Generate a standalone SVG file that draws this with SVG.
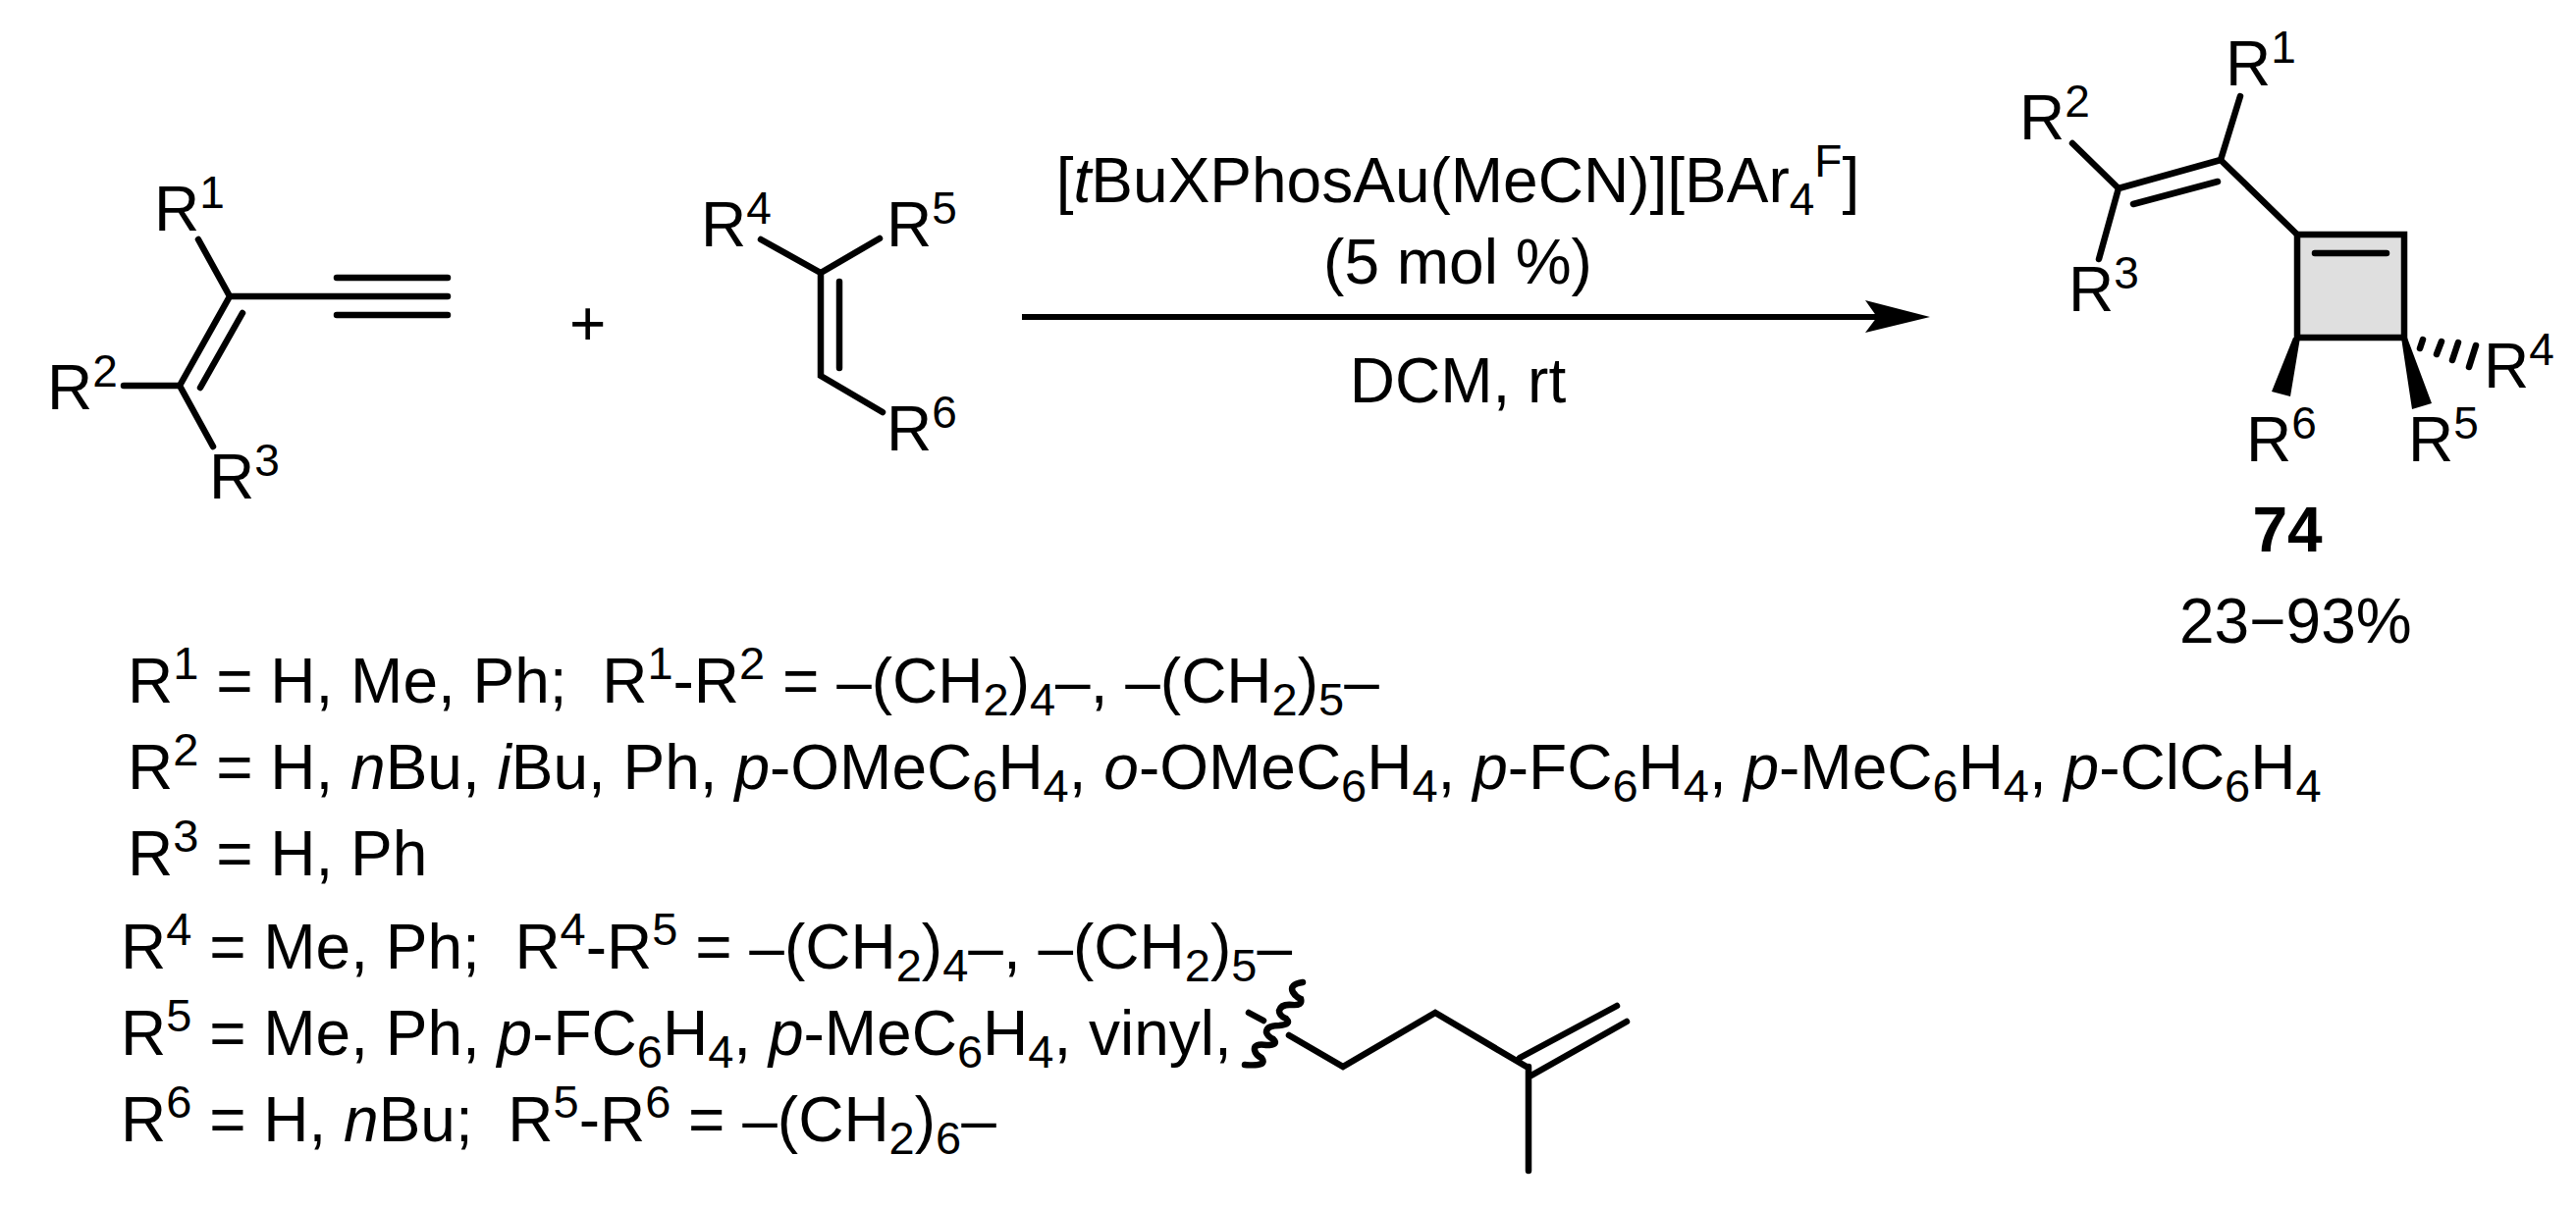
<svg xmlns="http://www.w3.org/2000/svg" width="2624" height="1231" viewBox="0 0 2624 1231">
<style>
text{font-family:"Liberation Sans",Arial,sans-serif;font-size:64px;fill:#000;white-space:pre}
.b{stroke:#000;stroke-width:6.5;stroke-linecap:round;fill:none}
.s{font-size:46px}
#legend .s{font-size:47px}
.i{font-style:italic}
</style>
<rect width="2624" height="1231" fill="#fff"/>
<g id="connectors">
<path class="b" d="M202 244L234 302L183 393M126 393H183L217 455M247 319L204 395M234 302H456M343 283H456M343 321H456"/>
<path class="b" d="M775 244L836 278L896 243M836 278V383L899 420M855 287V375"/>
<path d="M1041 323H1915" stroke="#000" stroke-width="6"/><path d="M1900 306L1966 323L1900 339L1912 323Z"/>
<rect x="2340" y="239" width="109" height="105" fill="#dfdfdf" stroke="#000" stroke-width="6.5"/>
<path class="b" d="M2358 258H2431M2282 98L2262 163L2158 192L2138 264M2111 146L2158 192M2173 208L2259 185M2262 163L2340 239"/>
<path d="M2336 344L2314 399L2333 404L2343 344ZM2446 344L2457 417L2477 411L2452 344Z"/>
<path class="b" d="M2468 346L2465 355M2487 348L2482 361M2504 349L2498 367M2522 352L2515 374"/>
<path class="b" d="M1313 1055L1368 1087L1462 1032L1555 1087M1548 1078L1647 1025M1558 1097L1657 1041M1557 1087V1193M1272 1032L1287 1040"/>
<path class="b" d="M1327 1001Q1313 1003 1317 1011Q1320 1016 1325 1018Q1327 1025 1316 1024Q1305 1023 1303 1030Q1303 1035 1310 1038Q1316 1044 1303 1045Q1290 1045 1290 1052Q1291 1056 1297 1059Q1303 1065 1290 1065Q1277 1063 1278 1070Q1279 1075 1285 1078Q1292 1087 1268 1085"/>
</g>
<g id="reactant-enyne"><text x="157" y="235">R<tspan class="s" dy="-23">1</tspan></text><text x="48" y="417">R<tspan class="s" dy="-23">2</tspan></text><text x="213" y="508">R<tspan class="s" dy="-23">3</tspan></text></g>
<g id="plus"><text x="580" y="352">+</text></g>
<g id="reactant-alkene"><text x="714" y="251">R<tspan class="s" dy="-23">4</tspan></text><text x="903" y="251">R<tspan class="s" dy="-23">5</tspan></text><text x="903" y="459">R<tspan class="s" dy="-23">6</tspan></text></g>
<g id="conditions" text-anchor="middle"><text x="1485" y="206">[<tspan class="i">t</tspan>BuXPhosAu(MeCN)][BAr<tspan class="s" dy="13">4</tspan><tspan class="s" dy="-39">F</tspan><tspan dy="26">]</tspan></text><text x="1485" y="289">(5 mol %)</text><text x="1485" y="410">DCM, rt</text></g>
<g id="product"><text x="2267" y="87">R<tspan class="s" dy="-23">1</tspan></text><text x="2057" y="142">R<tspan class="s" dy="-23">2</tspan></text><text x="2107" y="317">R<tspan class="s" dy="-23">3</tspan></text><text x="2530" y="395">R<tspan class="s" dy="-23">4</tspan></text><text x="2288" y="470">R<tspan class="s" dy="-23">6</tspan></text><text x="2453" y="470">R<tspan class="s" dy="-23">5</tspan></text><text x="2330" y="562" text-anchor="middle" font-weight="bold">74</text><text x="2220" y="655">23−93%</text></g>
<g id="legend">
<text x="130" y="716">R<tspan class="s" dy="-24">1</tspan><tspan dy="24"> = H, Me, Ph;  R</tspan><tspan class="s" dy="-24">1</tspan><tspan dy="24">-R</tspan><tspan class="s" dy="-24">2</tspan><tspan dy="24"> = –(CH</tspan><tspan class="s" dy="13">2</tspan><tspan dy="-13">)</tspan><tspan class="s" dy="13">4</tspan><tspan dy="-13">–, –(CH</tspan><tspan class="s" dy="13">2</tspan><tspan dy="-13">)</tspan><tspan class="s" dy="13">5</tspan><tspan dy="-13">–</tspan></text>
<text x="130" y="804">R<tspan class="s" dy="-24">2</tspan><tspan dy="24"> = H, </tspan><tspan class="i">n</tspan>Bu, <tspan class="i">i</tspan>Bu, Ph, <tspan class="i">p</tspan>-OMeC<tspan class="s" dy="13">6</tspan><tspan dy="-13">H</tspan><tspan class="s" dy="13">4</tspan><tspan dy="-13">, </tspan><tspan class="i">o</tspan>-OMeC<tspan class="s" dy="13">6</tspan><tspan dy="-13">H</tspan><tspan class="s" dy="13">4</tspan><tspan dy="-13">, </tspan><tspan class="i">p</tspan>-FC<tspan class="s" dy="13">6</tspan><tspan dy="-13">H</tspan><tspan class="s" dy="13">4</tspan><tspan dy="-13">, </tspan><tspan class="i">p</tspan>-MeC<tspan class="s" dy="13">6</tspan><tspan dy="-13">H</tspan><tspan class="s" dy="13">4</tspan><tspan dy="-13">, </tspan><tspan class="i">p</tspan>-ClC<tspan class="s" dy="13">6</tspan><tspan dy="-13">H</tspan><tspan class="s" dy="13">4</tspan></text>
<text x="130" y="892">R<tspan class="s" dy="-24">3</tspan><tspan dy="24"> = H, Ph</tspan></text>
<text x="123" y="987">R<tspan class="s" dy="-24">4</tspan><tspan dy="24"> = Me, Ph;  R</tspan><tspan class="s" dy="-24">4</tspan><tspan dy="24">-R</tspan><tspan class="s" dy="-24">5</tspan><tspan dy="24"> = –(CH</tspan><tspan class="s" dy="13">2</tspan><tspan dy="-13">)</tspan><tspan class="s" dy="13">4</tspan><tspan dy="-13">–, –(CH</tspan><tspan class="s" dy="13">2</tspan><tspan dy="-13">)</tspan><tspan class="s" dy="13">5</tspan><tspan dy="-13">–</tspan></text>
<text x="123" y="1075">R<tspan class="s" dy="-24">5</tspan><tspan dy="24"> = Me, Ph, </tspan><tspan class="i">p</tspan>-FC<tspan class="s" dy="13">6</tspan><tspan dy="-13">H</tspan><tspan class="s" dy="13">4</tspan><tspan dy="-13">, </tspan><tspan class="i">p</tspan>-MeC<tspan class="s" dy="13">6</tspan><tspan dy="-13">H</tspan><tspan class="s" dy="13">4</tspan><tspan dy="-13">, vinyl,</tspan></text>
<text x="123" y="1163">R<tspan class="s" dy="-24">6</tspan><tspan dy="24"> = H, </tspan><tspan class="i">n</tspan>Bu;  R<tspan class="s" dy="-24">5</tspan><tspan dy="24">-R</tspan><tspan class="s" dy="-24">6</tspan><tspan dy="24"> = –(CH</tspan><tspan class="s" dy="13">2</tspan><tspan dy="-13">)</tspan><tspan class="s" dy="13">6</tspan><tspan dy="-13">–</tspan></text>
</g>
</svg>
